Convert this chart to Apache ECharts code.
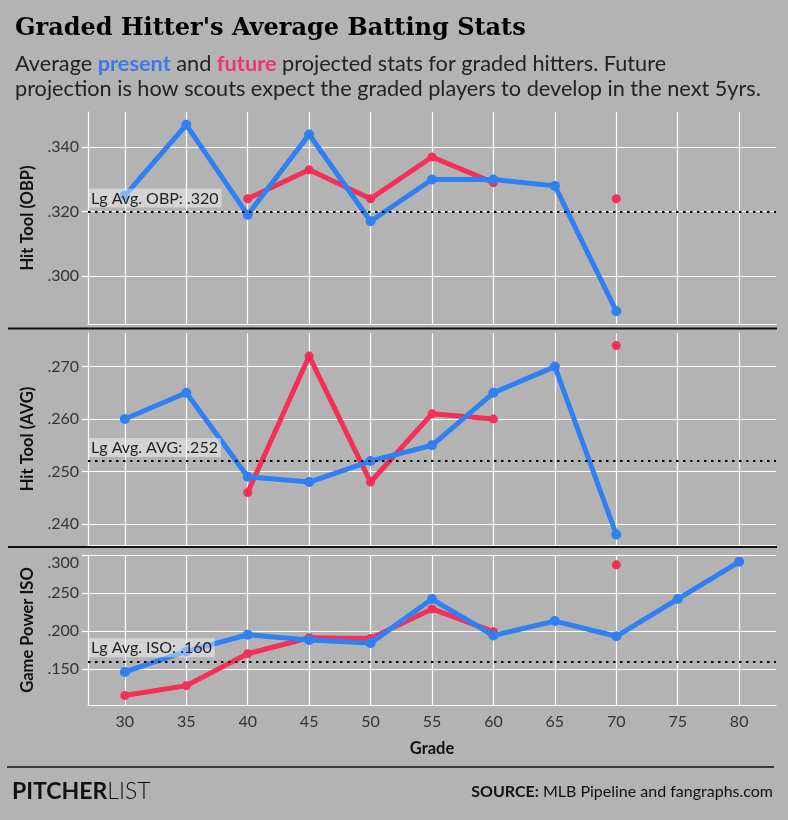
<!DOCTYPE html>
<html>
<head>
<meta charset="utf-8">
<title>Graded Hitter's Average Batting Stats</title>
<script src="https://cdn.jsdelivr.net/npm/echarts@6/dist/echarts.min.js"></script>
<style>
  html, body { margin: 0; padding: 0; background: #b3b3b3; }
  #main { width: 788px; height: 820px; }
</style>
</head>
<body>
<div id="main"></div>
<script>
'use strict';

// grades on the x axis
var grades = [30, 35, 40, 45, 50, 55, 60, 65, 70, 75, 80];

// OBP
var obpPresent = [0.325, 0.347, 0.319, 0.344, 0.317, 0.330, 0.330, 0.328, 0.289, null, null];
var obpFuture = [null, null, 0.324, 0.333, 0.324, 0.337, 0.329, null, 0.324, null, null];
// AVG
var avgPresent = [0.260, 0.265, 0.249, 0.248, 0.252, 0.255, 0.265, 0.270, 0.238, null, null];
var avgFuture = [null, null, 0.246, 0.272, 0.248, 0.261, 0.260, null, 0.274, null, null];
// ISO
var isoPresent = [0.146, 0.173, 0.195, 0.188, 0.184, 0.242, 0.194, 0.213, 0.193, 0.242, 0.291];
var isoFuture = [0.115, 0.128, 0.170, 0.191, 0.190, 0.229, 0.199, null, 0.287, null, null];

// league averages
var lgObp = 0.320;
var lgAvg = 0.252;
var lgIso = 0.160;

// tick labels
var obpTicks = [0.300, 0.320, 0.340];
var avgTicks = [0.240, 0.250, 0.260, 0.270];
var isoTicks = [0.150, 0.200, 0.250, 0.300];

var BLUE = '#2e80f3';
var RED = '#f42f58';
var FONT = 'Lato, "Open Sans", sans-serif';

function pairs(vals) {
    return grades.map(function (g, i) { return [g, vals[i]]; });
}

function fmt3(v) {
    return v.toFixed(3).replace(/^0/, '');
}

function xAxisFor(idx, showLabels) {
    return {
        type: 'value', gridIndex: idx, min: 27, max: 83,
        axisLine: { show: true, lineStyle: { color: '#fff', width: 1.2 } },
        axisTick: { show: false, customValues: grades },
        axisLabel: {
            show: showLabels, customValues: grades, margin: 9,
            color: '#333', fontFamily: FONT, fontSize: 16
        },
        splitLine: { show: true, lineStyle: { color: '#fff', width: 1.2 } },
        name: showLabels ? 'Grade' : '',
        nameLocation: 'middle', nameGap: 35,
        nameTextStyle: { color: '#111', fontFamily: FONT, fontWeight: 'bold', fontSize: 16.5 }
    };
}

function yAxisFor(idx, name, min, max, ticks, topShift) {
    return {
        type: 'value', gridIndex: idx, min: min, max: max,
        name: name, nameLocation: 'middle', nameGap: 51,
        nameTextStyle: { color: '#111', fontFamily: FONT, fontWeight: 'bold', fontSize: 16.5 },
        axisLine: { show: true, lineStyle: { color: '#fff', width: 1.2 } },
        axisTick: { show: true, customValues: ticks, length: 6, lineStyle: { color: '#fff', width: 1.2 } },
        axisLabel: {
            customValues: ticks, margin: 9, color: '#333', fontFamily: FONT, fontSize: 16,
            formatter: function (v) {
                var s = fmt3(v);
                // top label sits a bit lower, clipped inside the panel
                if (topShift && v > max - 0.0005) return '{top|' + s + '}';
                return s;
            },
            rich: { top: { padding: [15, 0, 0, 0], color: '#333', fontFamily: FONT, fontSize: 16 } }
        },
        splitLine: { show: true, lineStyle: { color: '#fff', width: 1.2 } }
    };
}

function lgLine(val, text) {
    return {
        silent: true, symbol: 'none', precision: 3,
        lineStyle: { color: '#000', type: [2.5, 4.5], width: 2 },
        label: {
            position: 'insideStartTop', distance: [0, 4],
            formatter: text, color: '#222', fontFamily: FONT, fontSize: 16,
            backgroundColor: 'rgba(255,255,255,0.42)', padding: [2, 3, 1, 3]
        },
        data: [{ yAxis: val }]
    };
}

function lineSeries(idx, vals, color, z, mark) {
    var s = {
        type: 'line', xAxisIndex: idx, yAxisIndex: idx, z: z,
        data: pairs(vals), connectNulls: false,
        symbol: 'circle', symbolSize: color === BLUE ? 10 : 9, showSymbol: true,
        lineStyle: { color: color, width: 5 },
        itemStyle: { color: color, borderWidth: 0 },
        emphasis: { disabled: true }
    };
    if (mark) s.markLine = mark;
    return s;
}

var chart = echarts.init(document.getElementById('main'));

var option = {
    backgroundColor: '#b3b3b3',
    animation: false,
    grid: [
        { left: 88, right: 12, top: 112, height: 212 },
        { left: 88, right: 12, top: 333, height: 212 },
        { left: 88, right: 12, top: 555, height: 150 }
    ],
    xAxis: [xAxisFor(0, false), xAxisFor(1, false), xAxisFor(2, true)],
    yAxis: [
        yAxisFor(0, 'Hit Tool (OBP)', 0.285, 0.351, obpTicks, false),
        yAxisFor(1, 'Hit Tool (AVG)', 0.236, 0.2764, avgTicks, false),
        yAxisFor(2, 'Game Power ISO', 0.1025, 0.300, isoTicks, true)
    ],
    series: [
        lineSeries(0, obpFuture, RED, 2),
        lineSeries(0, obpPresent, BLUE, 3, lgLine(lgObp, 'Lg Avg. OBP: .320')),
        lineSeries(1, avgFuture, RED, 2),
        lineSeries(1, avgPresent, BLUE, 3, lgLine(lgAvg, 'Lg Avg. AVG: .252')),
        lineSeries(2, isoFuture, RED, 2),
        lineSeries(2, isoPresent, BLUE, 3, lgLine(lgIso, 'Lg Avg. ISO: .160'))
    ],
    graphic: [
        {
            type: 'text', x: 15, y: 29,
            style: {
                text: "Graded Hitter's Average Batting Stats",
                fontFamily: '"DejaVu Serif", serif', fontWeight: 'bold', fontSize: 24,
                fill: '#000', verticalAlign: 'middle'
            }
        },
        {
            type: 'text', x: 15, y: 52,
            style: {
                text: 'Average {p|present} and {f|future} projected stats for graded hitters. Future\n' +
                      'projection is how scouts expect the graded players to develop in the next 5yrs.',
                fontFamily: FONT, fontSize: 21.7, fill: '#222', lineHeight: 25, verticalAlign: 'top',
                rich: {
                    p: { fill: '#3a7ae6', fontFamily: FONT, fontSize: 21.7, fontWeight: 'bold', lineHeight: 25 },
                    f: { fill: '#ee3479', fontFamily: FONT, fontSize: 21.7, fontWeight: 'bold', lineHeight: 25 }
                }
            }
        },
        // panel separators
        { type: 'line', shape: { x1: 8, y1: 328.5, x2: 777, y2: 328.5 }, style: { stroke: '#111', lineWidth: 2 } },
        { type: 'line', shape: { x1: 8, y1: 547, x2: 777, y2: 547 }, style: { stroke: '#111', lineWidth: 2 } },
        // footer
        { type: 'line', shape: { x1: 7, y1: 767, x2: 774, y2: 767 }, style: { stroke: '#111', lineWidth: 1.5 } },
        {
            type: 'text', x: 12, y: 792,
            style: {
                text: '{b|PITCHER}{l|LIST}', verticalAlign: 'middle',
                fontFamily: FONT, fontSize: 23, fill: '#111',
                rich: {
                    b: { fontFamily: FONT, fontSize: 23, fontWeight: 'bold', fill: '#111' },
                    l: { fontFamily: FONT, fontSize: 23, fontWeight: 300, fill: '#111' }
                }
            }
        },
        {
            type: 'text', x: 773, y: 792,
            style: {
                text: '{b|SOURCE:} MLB Pipeline and fangraphs.com', align: 'right', verticalAlign: 'middle',
                fontFamily: FONT, fontSize: 16, fill: '#111',
                rich: {
                    b: { fontFamily: FONT, fontSize: 16, fontWeight: 'bold', fill: '#111' }
                }
            }
        }
    ]
};

chart.setOption(option);
</script>
</body>
</html>
